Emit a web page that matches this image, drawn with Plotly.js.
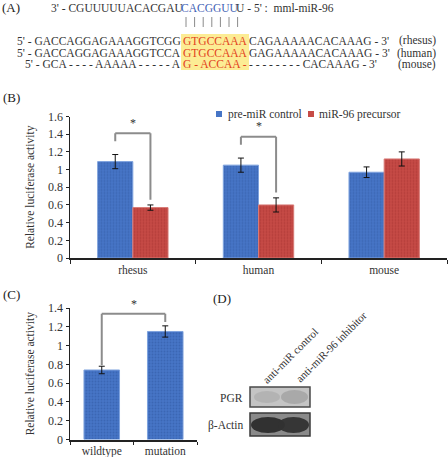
<!DOCTYPE html>
<html><head><meta charset="utf-8">
<script src="https://cdn.plot.ly/plotly-3.0.1.min.js"></script>
<style>html,body{margin:0;padding:0;background:#fff}#chart{width:448px;height:457px}</style>
</head><body><div id="chart"></div>
<script>
// ---- data (panel B) ----
const speciesCategories = ['rhesus', 'human', 'mouse'];
const seriesNames = ['pre-miR control', 'miR-96 precursor'];
const controlValues = [1.09, 1.05, 0.97];
const controlErrors = [0.08, 0.08, 0.06];
const precursorValues = [0.57, 0.60, 1.12];
const precursorErrors = [0.03, 0.08, 0.08];
const yTicksB = [0, 0.2, 0.4, 0.6, 0.8, 1, 1.2, 1.4, 1.6];
const significantB = [0, 1];   // category indexes marked with *
// ---- data (panel C) ----
const constructCategories = ['wildtype', 'mutation'];
const constructValues = [0.74, 1.15];
const constructErrors = [0.04, 0.06];
const yTicksC = [0, 0.2, 0.4, 0.6, 0.8, 1, 1.2, 1.4];
// ---- panel A text ----
const mirnaLine = ["3' - CGUUUUUACACGAU", 'CACGGUU', "U - 5' :  mml-miR-96"];
const targetRows = [
  ["5' - GACCAGGAGAAAGGTCGG", 'GTGCCAAA', "CAGAAAAACACAAAG - 3'", '(rhesus)'],
  ["5' - GACCAGGAGAAAGGTCCA", 'GTGCCAAA', "GAGAAAAACACAAAG - 3'", '(human)'],
  ["5' - GCA - - - - AAAAA - - - - - A", 'G - ACCAA -', "- - - - - - - - CACAAAG - 3'", '(mouse)']
];
// ---- panel D text ----
const blotLanes = ['anti-miR control', 'anti-miR-96 inhibitor'];
const blotRows = ['PGR', 'β-Actin'];

const W = 448, H = 457;
const X = p => p / W, Y = p => 1 - p / H;
const FONT = 'Liberation Serif, Times New Roman, serif';
const BLUE = '#4675c6', RED = '#c64b46';
const BLUE_DOT = '#3b66b4', RED_DOT = '#b43d39';
const BAR_GAP = 0.44;

function pattern(bg, fg) {
  return {shape: '.', fillmode: 'replace', bgcolor: bg, fgcolor: fg, size: 3, solidity: 0.3};
}

const traces = [
  {type: 'bar', name: seriesNames[0], x: speciesCategories, y: controlValues, showlegend: false,
   marker: {color: BLUE, line: {color: '#7fa3de', width: 1}, pattern: pattern(BLUE, BLUE_DOT)},
   error_y: {type: 'data', array: controlErrors, color: '#111', thickness: 1, width: 3},
   xaxis: 'x', yaxis: 'y'},
  {type: 'bar', name: seriesNames[1], x: speciesCategories, y: precursorValues, showlegend: false,
   marker: {color: RED, line: {color: '#d87a76', width: 1}, pattern: pattern(RED, RED_DOT)},
   error_y: {type: 'data', array: precursorErrors, color: '#111', thickness: 1, width: 3},
   xaxis: 'x', yaxis: 'y'},
  {type: 'bar', name: 'construct', x: constructCategories, y: constructValues, showlegend: false,
   marker: {color: BLUE, line: {color: '#7fa3de', width: 1}, pattern: pattern(BLUE, BLUE_DOT)},
   error_y: {type: 'data', array: constructErrors, color: '#111', thickness: 1, width: 3},
   xaxis: 'x2', yaxis: 'y2'}
];

const axisCommon = {
  showline: true, linecolor: '#222', linewidth: 1.5, ticks: 'outside', ticklen: 3,
  tickcolor: '#222', tickfont: {family: FONT, size: 11.5, color: '#333'}, showgrid: false,
  zeroline: false, fixedrange: true
};

const shapes = [];
const annotations = [];
const txt = (text, px, py, opt = {}) => annotations.push(Object.assign({
  text, xref: 'paper', yref: 'paper', x: X(px), y: Y(py), showarrow: false,
  xanchor: 'center', yanchor: 'middle', font: {family: FONT, size: 11, color: '#333'}
}, opt));
const rect = (x0, y0, x1, y1, fill, line, type = 'rect', opacity = 1) => shapes.push({
  type, xref: 'paper', yref: 'paper', x0: X(x0), x1: X(x1), y0: Y(y1), y1: Y(y0),
  fillcolor: fill, line: line, opacity});

// panel labels
txt('(A)', 11, 8, {font: {family: FONT, size: 13, color: '#222'}});
txt('(B)', 11, 98, {font: {family: FONT, size: 13, color: '#222'}});
txt('(C)', 11, 294, {font: {family: FONT, size: 13, color: '#222'}});
txt('(D)', 222, 298, {font: {family: FONT, size: 13, color: '#222'}});

// ---- panel A ----
const SEQ = 11.5;
shapes.push({type: 'rect', xref: 'paper', yref: 'paper', x0: X(181), x1: X(249), y0: Y(70), y1: Y(34),
  fillcolor: '#fcec94', line: {width: 0}, layer: 'below'});
txt(mirnaLine[0], 185, 8, {xanchor: 'right', font: {family: FONT, size: SEQ, color: '#333'}});
txt(mirnaLine[1], 210, 8, {font: {family: FONT, size: SEQ, color: '#3f62b5'}});
txt(mirnaLine[2], 234, 8, {xanchor: 'left', font: {family: FONT, size: SEQ, color: '#333'}});
for (let i = 0; i < mirnaLine[1].length; i++) {
  const px = 186 + i * 8.6;
  shapes.push({type: 'line', xref: 'paper', yref: 'paper', x0: X(px), x1: X(px), y0: Y(17), y1: Y(27),
    line: {color: '#8a8a8a', width: 1}});
}
const rowY = [41, 53, 64];
targetRows.forEach((r, k) => {
  txt(r[0], 183, rowY[k], {xanchor: 'right', font: {family: FONT, size: SEQ, color: '#333'}});
  txt(r[1], 215, rowY[k], {font: {family: FONT, size: SEQ, color: '#e2411d'}});
  txt(r[2], 247, rowY[k], {xanchor: 'left', font: {family: FONT, size: SEQ, color: '#333'}});
  txt(r[3], 438, rowY[k], {xanchor: 'right', font: {family: FONT, size: SEQ, color: '#333'}});
});

// ---- panel B legend ----
[[BLUE, 219, 226], [RED, 311, 317]].forEach(([c, sx, tx], k) => {
  rect(sx - 3, 111, sx + 3, 117, c, {width: 0});
  txt(seriesNames[k], tx, 114, {xanchor: 'left', font: {family: FONT, size: 11.5, color: '#333'}});
});

// ---- panel B significance brackets ----
const half = (1 - BAR_GAP) / 4;
const gray = {color: '#8c8c8c', width: 2};
significantB.forEach(i => {
  const lTop = controlValues[i] + controlErrors[i];
  const rTop = precursorValues[i] + precursorErrors[i];
  const top = Math.max(lTop, rTop) + 0.24;
  const xl = i - half, xr = i + half;
  shapes.push({type: 'line', xref: 'x', yref: 'y', x0: xl, x1: xl, y0: lTop + 0.15, y1: top, line: gray});
  shapes.push({type: 'line', xref: 'x', yref: 'y', x0: xl, x1: xr, y0: top, y1: top, line: gray});
  shapes.push({type: 'line', xref: 'x', yref: 'y', x0: xr, x1: xr, y0: rTop + 0.06, y1: top, line: gray});
  annotations.push({text: '*', xref: 'x', yref: 'y', x: i, y: top + 0.02, showarrow: false,
    yanchor: 'bottom', font: {family: FONT, size: 12, color: '#333'}});
});

// ---- panel C significance bracket ----
{
  const lTop = constructValues[0] + constructErrors[0];
  const rTop = constructValues[1] + constructErrors[1];
  const top = rTop + 0.13;
  shapes.push({type: 'line', xref: 'x2', yref: 'y2', x0: 0, x1: 0, y0: lTop + 0.01, y1: top, line: gray});
  shapes.push({type: 'line', xref: 'x2', yref: 'y2', x0: 0, x1: 1, y0: top, y1: top, line: gray});
  shapes.push({type: 'line', xref: 'x2', yref: 'y2', x0: 1, x1: 1, y0: rTop + 0.04, y1: top, line: gray});
  annotations.push({text: '*', xref: 'x2', yref: 'y2', x: 0.5, y: top + 0.01, showarrow: false,
    yanchor: 'bottom', font: {family: FONT, size: 12, color: '#333'}});
}

// ---- panel D blot ----
txt(blotLanes[0], 290, 356, {textangle: -45, font: {family: FONT, size: 11, color: '#333'}});
txt(blotLanes[1], 331, 347, {textangle: -45, font: {family: FONT, size: 11, color: '#333'}});
txt(blotRows[0], 245, 398, {xanchor: 'right', font: {family: FONT, size: 11.5, color: '#333'}});
txt(blotRows[1], 245, 425, {xanchor: 'right', font: {family: FONT, size: 11.5, color: '#333'}});
rect(250, 387, 310, 407, '#c4c4c4', {color: '#4a4a4a', width: 1.5});
rect(254, 391, 280, 403, '#adadad', {width: 0}, 'circle', 0.7);
rect(281, 390, 308, 404, '#a2a2a2', {width: 0}, 'circle', 0.8);
rect(250, 413, 310, 436, '#8a8a8a', {color: '#3a3a3a', width: 1.5});
rect(251, 417, 285, 433, '#2c2c2c', {width: 0}, 'circle', 0.95);
rect(278, 417, 309, 433, '#323232', {width: 0}, 'circle', 0.95);

const ytitle = {text: 'Relative luciferase activity', font: {family: FONT, size: 11.5, color: '#333'}, standoff: 11};
const layout = {
  width: W, height: H, margin: {l: 0, r: 0, t: 0, b: 0},
  paper_bgcolor: '#fff', plot_bgcolor: 'rgba(0,0,0,0)',
  barmode: 'group', bargap: BAR_GAP, bargroupgap: 0,
  font: {family: FONT, color: '#333'},
  showlegend: false,
  xaxis: Object.assign({}, axisCommon, {domain: [X(70), X(447)], anchor: 'y', tickson: 'boundaries',
    ticklen: 4, linewidth: 2}),
  yaxis: Object.assign({}, axisCommon, {domain: [Y(258), Y(116.5)], anchor: 'x', range: [0, 1.6],
    tickvals: yTicksB, tickfont: {family: FONT, size: 12, color: '#333'}, title: ytitle}),
  xaxis2: Object.assign({}, axisCommon, {domain: [X(70), X(197)], anchor: 'y2', tickson: 'boundaries',
    ticklen: 3, linewidth: 2}),
  yaxis2: Object.assign({}, axisCommon, {domain: [Y(439.5), Y(308)], anchor: 'x2', range: [0, 1.4],
    tickvals: yTicksC, tickfont: {family: FONT, size: 12, color: '#333'}, title: ytitle}),
  shapes, annotations
};

Plotly.newPlot('chart', traces, layout, {displayModeBar: false, staticPlot: true});
</script></body></html>
